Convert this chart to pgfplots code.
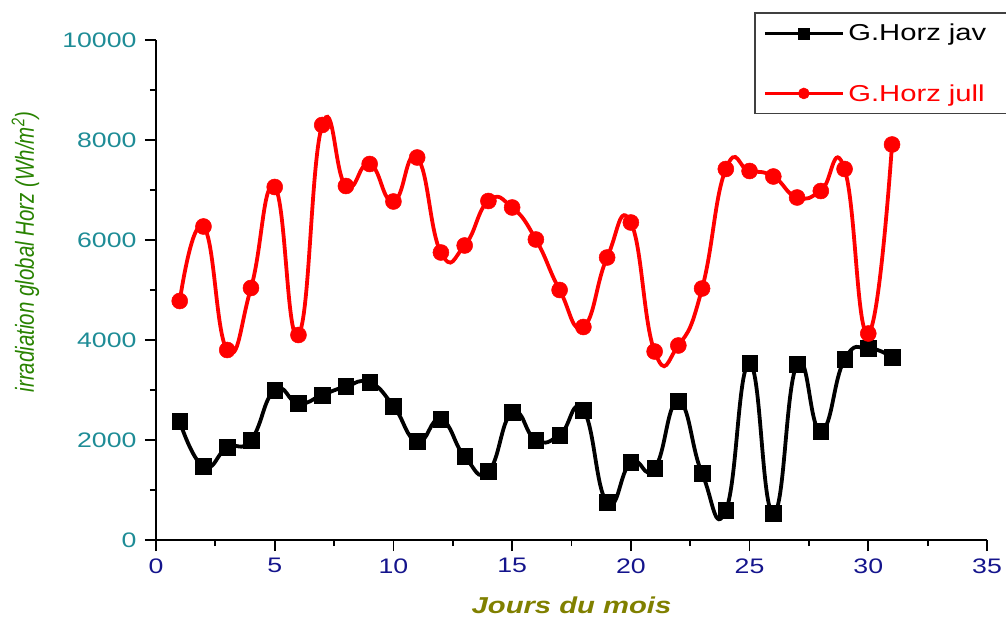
\documentclass[border=0pt]{standalone}
\usepackage{pgfplots}
\pgfplotsset{compat=1.18}
\usepackage{fontspec}
\setmainfont{Liberation Sans}[FakeStretch=1.27]
\newfontfamily\ylabfont{Liberation Sans}
\definecolor{yticc}{RGB}{30,140,150}
\definecolor{xticc}{RGB}{20,20,140}
\definecolor{xlabc}{RGB}{128,128,0}
\definecolor{ylabc}{RGB}{40,130,0}
\begin{document}
\begin{tikzpicture}
\useasboundingbox (-156pt,-81pt) rectangle (850pt,540pt);
\begin{axis}[
  scale only axis,
  width=831pt, height=500pt,
  xmin=0, xmax=35, ymin=0, ymax=10000,
  xtick={0,5,...,35}, ytick={0,2000,...,10000},
  minor x tick num=1, minor y tick num=1,
  axis x line=bottom, axis y line=left,
  axis line style={-, line width=2.2pt, black},
  tick align=outside,
  major tick length=11pt, minor tick length=6pt,
  every tick/.style={black, line width=1.8pt},
  scaled ticks=false,
  /pgf/number format/set thousands separator={},
  /pgf/number format/assume math mode=true,
  yticklabel style={font=\fontsize{21}{24}\selectfont, text=yticc, xshift=-5pt},
  xticklabel style={font=\fontsize{21}{24}\selectfont, text=xticc, yshift=-4pt},
  xlabel={\textbf{\textit{Jours\ du\ mois}}},
  xlabel style={at={(axis description cs:0.5,-0.13)}, anchor=center, font=\fontsize{23}{24}\selectfont, text=xlabc},
  ylabel={\scalebox{1}[1.27]{\ylabfont\itshape irradiation global Horz (Wh/m\textsuperscript{2})}},
  ylabel style={at={(axis description cs:-0.157,0.576)}, anchor=center, font=\fontsize{20.5}{24}\selectfont, text=ylabc},
  legend style={name=leg, at={(axis description cs:0.721,1.054)}, anchor=north west,
    draw=none, font=\fontsize{23}{24}\selectfont,
    row sep=38pt, inner xsep=8pt, inner ysep=9pt},
  legend cell align=left,
  legend image code/.code={
    \draw[mark repeat=2, mark phase=2, line width=3pt, mark size=5.5pt] plot coordinates {(0pt,0pt) (39pt,0pt) (78pt,0pt)};
  },
]
\addplot[black, line width=3.8pt, smooth, tension=0.85, mark=square*, mark size=7.8pt,
  mark options={solid, line width=0.5pt}] coordinates {
(1,2370) (2,1470) (3,1850) (4,2000) (5,3000) (6,2730) (7,2900) (8,3070)
(9,3150) (10,2680) (11,1970) (12,2410) (13,1670) (14,1370) (15,2550) (16,2000)
(17,2100) (18,2600) (19,750) (20,1550) (21,1430) (22,2770) (23,1330) (24,590)
(25,3530) (26,530) (27,3510) (28,2180) (29,3610) (30,3830) (31,3650)
};
\addlegendentry{\hspace*{2pt}G.Horz jav}
\addplot[red, line width=3.8pt, smooth, tension=0.85, mark=*, mark size=8pt,
  mark options={solid, line width=0.5pt}] coordinates {
(1,4780) (2,6270) (3,3800) (4,5040) (5,7060) (6,4100) (7,8300) (8,7080)
(9,7520) (10,6770) (11,7650) (12,5750) (13,5890) (14,6780) (15,6650) (16,6010)
(17,5000) (18,4260) (19,5650) (20,6350) (21,3770) (22,3890) (23,5030) (24,7420)
(25,7380) (26,7270) (27,6850) (28,6980) (29,7420) (30,4130) (31,7910)
};
\addlegendentry{\hspace*{2pt}\textcolor{red}{G.Horz jull}}
\end{axis}
\draw[black!75, line width=1.4pt] ([xshift=60pt]leg.north east) -- (leg.north west) -- (leg.south west) -- ([xshift=60pt]leg.south east);
\end{tikzpicture}
\end{document}
